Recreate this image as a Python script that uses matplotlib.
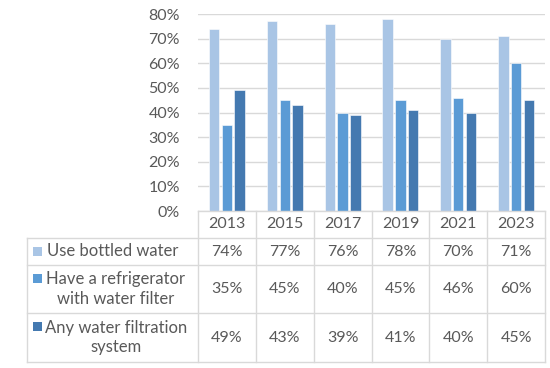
import numpy as np
import matplotlib

matplotlib.use("Agg")
import matplotlib.pyplot as plt
from matplotlib.lines import Line2D
from matplotlib.patches import Rectangle

YEARS = ["2013", "2015", "2017", "2019", "2021", "2023"]
SERIES = ["Use bottled water", "Have a refrigerator\nwith water filter",
          "Any water filtration\nsystem"]
BOTTLED = [74, 77, 76, 78, 70, 71]
FRIDGE = [35, 45, 40, 45, 46, 60]
FILTRATION = [49, 43, 39, 41, 40, 45]
COLORS = ["#a9c5e5", "#5b9bd5", "#4479b0"]
TXT, GRID = "#595959", "#d9d9d9"

W, H = 550, 368
plt.rcParams["font.family"] = ["Lato", "DejaVu Sans"]


def fx(px):
    return px / W


def fy(py):
    return 1 - py / H


fig = plt.figure(figsize=(W / 100, H / 100), dpi=100, facecolor="white")

# plot area in pixel coords
x0, x1, ytop, ybot = 198, 545, 14, 211
ax = fig.add_axes([fx(x0), fy(ybot), fx(x1 - x0), fy(ytop) - fy(ybot)])
x = np.arange(len(YEARS))
bw, off = 0.18, 0.22
for k, vals in enumerate([BOTTLED, FRIDGE, FILTRATION]):
    ax.bar(x + (k - 1) * off, np.array(vals) / 100, bw, color=COLORS[k],
           edgecolor="white", linewidth=0.4, zorder=3)
ax.set_xlim(-0.5, len(YEARS) - 0.5)
ax.set_ylim(0, 0.8)
ax.set_yticks(np.arange(0, 0.81, 0.1))
ax.set_yticklabels([f"{int(round(v * 100))}%" for v in np.arange(0, 0.81, 0.1)])
ax.tick_params(axis="y", length=0, pad=13, labelsize=11.5, labelcolor=TXT)
ax.set_xticks([])
ax.grid(axis="y", color=GRID, lw=1, zorder=0)
for s in ax.spines.values():
    s.set_visible(False)

# ---- data table --------------------------------------------------------------
rows = [211, 238, 265, 313, 362]
cw = (x1 - x0) / len(YEARS)
cols = [x0 + i * cw for i in range(len(YEARS) + 1)]
tl = 27
FS = 11.5


def line(xa, ya, xb, yb):
    fig.add_artist(Line2D([fx(xa), fx(xb)], [fy(ya), fy(yb)],
                          transform=fig.transFigure, color=GRID, lw=1))


for c in cols:
    line(c, rows[0], c, rows[-1])
line(tl, rows[1], tl, rows[-1])
line(x0, rows[0], x1, rows[0])
for r in rows[1:]:
    line(tl, r, x1, r)

for i, yr in enumerate(YEARS):
    fig.text(fx(cols[i] + cw / 2), fy((rows[0] + rows[1]) / 2), yr,
             ha="center", va="center", color=TXT, fontsize=FS)

for k, vals in enumerate([BOTTLED, FRIDGE, FILTRATION]):
    yc = (rows[k + 1] + rows[k + 2]) / 2
    for i, v in enumerate(vals):
        fig.text(fx(cols[i] + cw / 2), fy(yc), f"{v}%",
                 ha="center", va="center", color=TXT, fontsize=FS)
    nlines = SERIES[k].count("\n") + 1
    first = yc if nlines == 1 else yc - 11
    fig.add_artist(Rectangle((fx(33), fy(first + 4.5)), fx(9), fy(0) - fy(9),
                             transform=fig.transFigure, color=COLORS[k], lw=0))
    if nlines == 1:
        fig.text(fx(47), fy(yc), SERIES[k], ha="left", va="center",
                 color=TXT, fontsize=12)
    else:
        fig.text(fx(116), fy(yc), SERIES[k], ha="center", va="center",
                 multialignment="center", color=TXT, fontsize=12,
                 linespacing=1.3)

fig.savefig("out.png", dpi=100, facecolor="white")
